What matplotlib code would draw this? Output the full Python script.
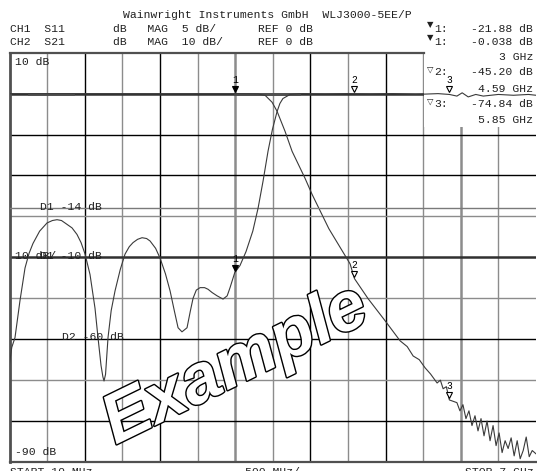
import numpy as np
import matplotlib.pyplot as plt
from matplotlib.patches import Rectangle
import matplotlib.patheffects as pe
from matplotlib.transforms import offset_copy

# Sweep: 10 MHz .. 7 GHz, 500 MHz/div
F_START, F_STOP = 0.01, 7.0

# CH1 S11 (5 dB/div, ref 0 dB)
s11_f = [0.01, 0.04, 0.083, 0.149, 0.216, 0.27, 0.322, 0.41, 0.508, 0.58, 0.641, 0.7, 0.747,
         0.84, 0.906, 0.96, 1.013, 1.079, 1.145, 1.185, 1.225, 1.25, 1.265, 1.285, 1.318, 1.36,
         1.411, 1.48, 1.544, 1.6, 1.65, 1.71, 1.77, 1.83, 1.876, 1.95, 2.009, 2.08, 2.142, 2.2,
         2.248, 2.3, 2.367, 2.41, 2.447, 2.49, 2.54, 2.6, 2.646, 2.7, 2.766, 2.845, 2.9, 2.938,
         3.0, 3.07, 3.15, 3.24, 3.31, 3.376, 3.443, 3.5, 3.562, 3.6, 3.64, 3.735, 3.9,
         4.2, 4.5, 4.8, 5.1, 5.4, 5.7, 5.85, 5.95, 6.02, 6.1, 6.2, 6.3, 6.5, 6.7, 6.9, 7.0]
s11_db = [-33.0, -31.0, -29.8, -25.3, -21.3, -19.5, -18.3, -16.8, -15.8, -15.5, -15.4, -15.5, -15.8,
          -16.4, -17.2, -18.2, -19.6, -22.1, -26.2, -29.8, -33.2, -34.6, -35.1, -34.3, -29.8, -26.5,
          -24.1, -21.5, -19.6, -18.7, -18.2, -17.8, -17.6, -17.7, -18.0, -18.9, -20.1, -22.0, -24.1, -26.6,
          -28.6, -29.1, -28.6, -26.6, -25.0, -24.0, -23.7, -23.7, -23.9, -24.3, -24.7, -25.1, -24.7, -23.7,
          -21.88, -21.0, -19.3, -16.8, -14.0, -10.7, -7.0, -4.4, -2.2, -1.2, -0.6, -0.1, 0.0,
          -0.05, 0.0, -0.05, 0.0, -0.1, 0.0, -0.1, -0.3, 0.1, -0.4, -0.1, -0.3, -0.1, -0.2, -0.1, -0.2]

# CH2 S21 (10 dB/div, ref 0 dB)
s21_f = [0.01, 0.5, 1.0, 1.5, 2.0, 2.5, 3.0, 3.31, 3.403, 3.496, 3.562, 3.668, 3.762, 3.934,
         4.027, 4.25, 4.532, 4.59, 4.771, 4.997, 5.196, 5.29, 5.369, 5.45, 5.528, 5.6, 5.687,
         5.73, 5.767, 5.81, 5.85, 5.95, 5.99, 6.03, 6.07, 6.11, 6.15, 6.19, 6.23, 6.27, 6.31,
         6.35, 6.39, 6.43, 6.47, 6.51, 6.55, 6.59, 6.63, 6.67, 6.71, 6.75, 6.79, 6.83, 6.87,
         6.91, 6.95, 7.0]
s21_db = [-0.02, -0.03, -0.02, -0.03, -0.04, -0.03, -0.038, -0.1, -0.4, -2.1, -4.3, -9.2, -14.1, -20.7,
          -24.6, -33.0, -41.6, -45.2, -50.1, -55.5, -60.4, -61.8, -64.1, -65.0, -67.0, -68.5, -70.7,
          -70.0, -72.1, -71.6, -74.84, -75.5, -77.5, -76.0, -79.4, -77.5, -81.1, -78.7, -82.4, -79.4, -83.6,
          -80.0, -84.8, -81.1, -86.0, -82.9, -87.7, -84.8, -86.7, -84.1, -88.5, -84.8, -89.2, -87.2, -83.9,
          -88.7, -87.2, -88.0]

# markers
mk_f = [3.0, 4.59, 5.85]
mk_s11 = [-21.88, 0.0, 0.0]
mk_s21 = [-0.038, -45.20, -74.84]

W, H = 537, 471
fig = plt.figure(figsize=(W / 100, H / 100), dpi=100)
MONO = ['Liberation Mono', 'DejaVu Sans Mono', 'DejaVu Sans']
FS = 8.2


def fx(x):
    return x / W


def fy(y):
    return 1 - y / H


def ftxt(x, y, s, **kw):
    kw.setdefault('fontsize', FS)
    kw.setdefault('family', MONO)
    kw.setdefault('va', 'center')
    fig.text(fx(x), fy(y), s, color='#202020', **kw)


L, R, T, B = 9.5, 536, 52.7, 462
ax = fig.add_axes([fx(L), fy(B), (R - L) / W, (B - T) / H])
ax.set_xlim(F_START, F_STOP)
ax.set_ylim(-90, 10)
ax.set_xticks([])
ax.set_yticks([])
ax2 = ax.twinx()
ax2.set_ylim(-45, 5)
ax2.set_yticks([])
for a in (ax, ax2):
    for s in a.spines.values():
        s.set_visible(False)

# grid
vlines = np.linspace(F_START, F_STOP, 15)[1:-1]
for i, f in enumerate(vlines, start=1):
    if i in (6, 12):
        ax.axvline(f, color='#8c8c8c', lw=1.8, zorder=1)
    elif i % 2 == 0:
        ax.axvline(f, color='black', lw=1.0, zorder=1)
    else:
        ax.axvline(f, color='#8c8c8c', lw=1.0, zorder=1)
hstyle = {0: ('#303030', 1.8), -10: ('black', 1.0), -20: ('black', 1.0), -30: ('#8c8c8c', 1.0),
          -40: ('#303030', 1.8), -50: ('#8c8c8c', 1.0), -60: ('black', 1.0), -70: ('#8c8c8c', 1.0),
          -80: ('black', 1.0)}
for lev, (c, w) in hstyle.items():
    ax.axhline(lev, color=c, lw=w, zorder=1)
ax2.axhline(-14, color='#7a7a7a', lw=1.0, zorder=1)

# border (top border stops at readout box)
box_x = (424 - L) / (R - L)
ax.plot([0, 0], [0, 1], transform=ax.transAxes, color='#505050', lw=2.0, clip_on=False, zorder=2)
ax.plot([0, 1], [0, 0], transform=ax.transAxes, color='#505050', lw=1.6, clip_on=False, zorder=2)
ax.plot([0, box_x], [1, 1], transform=ax.transAxes, color='#505050', lw=1.6, clip_on=False, zorder=2)
ax.add_patch(Rectangle((box_x, (B - 127) / (B - T)), 1 - box_x, (127 - T) / (B - T) + 0.01,
                       transform=ax.transAxes, facecolor='white', edgecolor='none',
                       zorder=1.5, clip_on=False))

# traces
ax.plot(s21_f, s21_db, color='#3a3a3a', lw=0.8, zorder=3)
ax2.plot(s11_f, s11_db, color='#3a3a3a', lw=0.8, zorder=3)
ax.plot([0.27, 0.85], [0, 0], color='#505050', lw=2.0, zorder=2.5)
ax.plot([3.0, 3.85], [0, 0], color='#505050', lw=2.0, zorder=2.5)

# marker symbols


def marker(a, f, v, label, filled):
    tr_m = offset_copy(a.transData, fig=fig, x=0, y=3.5, units='points')
    tr_t = offset_copy(a.transData, fig=fig, x=0, y=10, units='points')
    a.plot([f], [v], marker='v', ms=5, mec='black', mfc='black' if filled else 'white',
           mew=0.8, transform=tr_m, zorder=4, clip_on=False)
    a.text(f, v, label, transform=tr_t, ha='center', va='center', fontsize=7,
           family=MONO, zorder=4)


for k, f in enumerate(mk_f):
    marker(ax, f, mk_s21[k], str(k + 1), k == 0)
    marker(ax2, f, mk_s11[k], str(k + 1), k == 0)

# header
ftxt(123, 15, 'Wainwright Instruments GmbH  WLJ3000-5EE/P')
ftxt(10, 29, 'CH1  S11')
ftxt(10, 42, 'CH2  S21')
ftxt(113, 29, 'dB   MAG  5 dB/')
ftxt(113, 42, 'dB   MAG  10 dB/')
ftxt(258, 29, 'REF 0 dB')
ftxt(258, 42, 'REF 0 dB')
ftxt(427, 25, '▼', fontsize=6, family=['DejaVu Sans'])
ftxt(427, 38, '▼', fontsize=6, family=['DejaVu Sans'])
ftxt(434, 29, '1:')
ftxt(434, 42, '1:')
ftxt(533, 29, '-21.88 dB', ha='right')
ftxt(533, 42, '-0.038 dB', ha='right')
ftxt(533, 57, '3 GHz', ha='right')
ftxt(427, 69, '▽', fontsize=6, family=['DejaVu Sans'])
ftxt(434, 72, '2:')
ftxt(533, 72, '-45.20 dB', ha='right')
ftxt(533, 89, '4.59 GHz', ha='right')
ftxt(427, 101, '▽', fontsize=6, family=['DejaVu Sans'])
ftxt(434, 104, '3:')
ftxt(533, 104, '-74.84 dB', ha='right')
ftxt(533, 120, '5.85 GHz', ha='right')

# in-grid labels
ftxt(15, 62, '10 dB')
ftxt(15, 452, '-90 dB')
ftxt(40, 207, 'D1 -14 dB')
ftxt(15, 256, '10 dB/')
ftxt(40, 256, 'D1 -10 dB')
ftxt(62, 337, 'D2 -60 dB')

# footer (cut off by the screen edge, as on the instrument capture)
ftxt(10, 467, 'START 10 MHz', va='top')
ftxt(245, 467, '500 MHz/', va='top')
ftxt(465, 467, 'STOP 7 GHz', va='top')

# watermark
fig.text(fx(236), fy(366), 'Example', fontsize=50, family='Liberation Sans', style='italic',
         weight='bold', color='white', rotation=26, ha='center', va='center',
         rotation_mode='anchor', zorder=10,
         path_effects=[pe.withStroke(linewidth=2.0, foreground='black')])

fig.savefig('out.png', dpi=100)
